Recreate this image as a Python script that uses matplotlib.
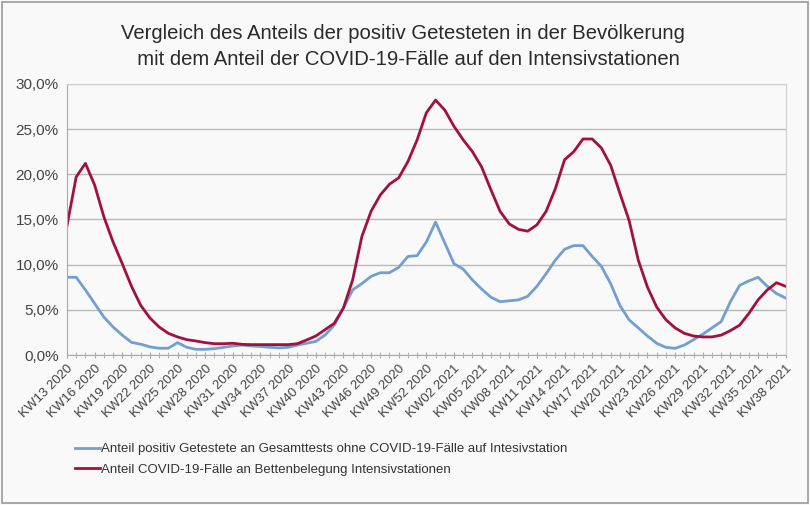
import matplotlib
matplotlib.use("Agg")
import matplotlib.pyplot as plt
from matplotlib.ticker import FuncFormatter, MultipleLocator
from matplotlib.patches import Rectangle

plt.rcParams['font.family'] = ['Liberation Sans', 'DejaVu Sans']

# Week labels: KW13 2020 .. KW53 2020, KW01 2021 .. KW38 2021
weeks = [f"KW{w:02d} 2020" for w in range(13, 54)] + [f"KW{w:02d} 2021" for w in range(1, 39)]

positiv = [8.6, 8.6, 7.2, 5.7, 4.2, 3.1, 2.2, 1.4, 1.2, 0.9,
           0.75, 0.75, 1.37, 0.85, 0.63, 0.63, 0.7, 0.85, 1.0, 1.1,
           1.0, 0.95, 0.85, 0.8, 0.85, 1.1, 1.3, 1.5, 2.2, 3.3,
           5.2, 7.2, 7.9, 8.7, 9.1, 9.1, 9.7, 10.9, 11.0, 12.5,
           14.7, 12.4, 10.1, 9.5, 8.3, 7.3, 6.4, 5.9, 6.0, 6.1,
           6.5, 7.6, 9.0, 10.5, 11.7, 12.1, 12.1, 10.9, 9.8, 7.9,
           5.5, 3.9, 3.0, 2.1, 1.3, 0.85, 0.74, 1.1, 1.7, 2.3,
           3.0, 3.7, 5.9, 7.7, 8.2, 8.6, 7.6, 6.8, 6.3]

intensiv = [14.3, 19.7, 21.2, 18.8, 15.3, 12.5, 10.1, 7.6, 5.5, 4.1,
            3.1, 2.4, 2.0, 1.7, 1.55, 1.37, 1.25, 1.25, 1.3, 1.18,
            1.15, 1.15, 1.15, 1.15, 1.15, 1.25, 1.66, 2.1, 2.8, 3.5,
            5.2, 8.3, 13.1, 15.9, 17.7, 18.9, 19.6, 21.4, 23.8, 26.8,
            28.2, 27.1, 25.3, 23.8, 22.5, 20.8, 18.3, 15.9, 14.5, 13.9,
            13.7, 14.4, 15.9, 18.4, 21.6, 22.5, 23.9, 23.9, 22.9, 21.0,
            17.9, 14.9, 10.5, 7.5, 5.3, 3.9, 3.0, 2.4, 2.1, 2.0,
            2.0, 2.2, 2.7, 3.3, 4.6, 6.1, 7.2, 8.0, 7.6]

label_pos = "Anteil positiv Getestete an Gesamttests ohne COVID-19-Fälle auf Intesivstation"
label_its = "Anteil COVID-19-Fälle an Bettenbelegung Intensivstationen"
title = "Vergleich des Anteils der positiv Getesteten in der Bevölkerung\n  mit dem Anteil der COVID-19-Fälle auf den Intensivstationen"

bg = "#f9f9f9"
fig = plt.figure(figsize=(8.10, 5.05), dpi=100, facecolor=bg)
ax = fig.add_axes([0.0827, 0.297, 0.8873, 0.537], facecolor=bg)

x = list(range(len(weeks)))
ax.plot(x, positiv, color="#729fcf", lw=2.0, label=label_pos, solid_joinstyle="round")
ax.plot(x, intensiv, color="#a3103f", lw=2.0, label=label_its, solid_joinstyle="round")

ax.set_xlim(0, len(weeks) - 1)
ax.set_ylim(0, 30)
ax.yaxis.set_major_locator(MultipleLocator(5))
ax.yaxis.set_major_formatter(FuncFormatter(lambda v, p: f"{v:.1f}%".replace(".", ",")))
ax.grid(axis="y", color="#b8b8b8", lw=1.0)
ax.set_axisbelow(True)

ax.set_xticks(x[::3])
ax.set_xticklabels(weeks[::3], rotation=45, ha="right", rotation_mode="anchor")
ax.set_xticks(x, minor=True)
ax.tick_params(axis="x", which="both", direction="inout", length=5, color="#aaaaaa", labelsize=9.5,
               labelcolor="#444444", pad=3)
ax.tick_params(axis="y", length=0, labelsize=11, labelcolor="#444444", pad=6)

for s in ["left", "bottom"]:
    ax.spines[s].set_color("#aaaaaa")
for s in ["right", "top"]:
    ax.spines[s].set_color("#d0d0d0")

fig.text(0.497, 0.952, title, ha="center", va="top", fontsize=14.6, color="#2a2a2a", linespacing=1.45)

fig.legend(loc="upper left", bbox_to_anchor=(0.078, 0.146), frameon=False, fontsize=9.5,
           handlelength=1.9, handletextpad=0.1, labelspacing=0.62, labelcolor="#333333")

fig.patches.append(Rectangle((0.002, 0.003), 0.996, 0.994, transform=fig.transFigure,
                             fill=False, edgecolor="#999999", lw=1.2))

fig.savefig("out.png", dpi=100, facecolor=bg)
